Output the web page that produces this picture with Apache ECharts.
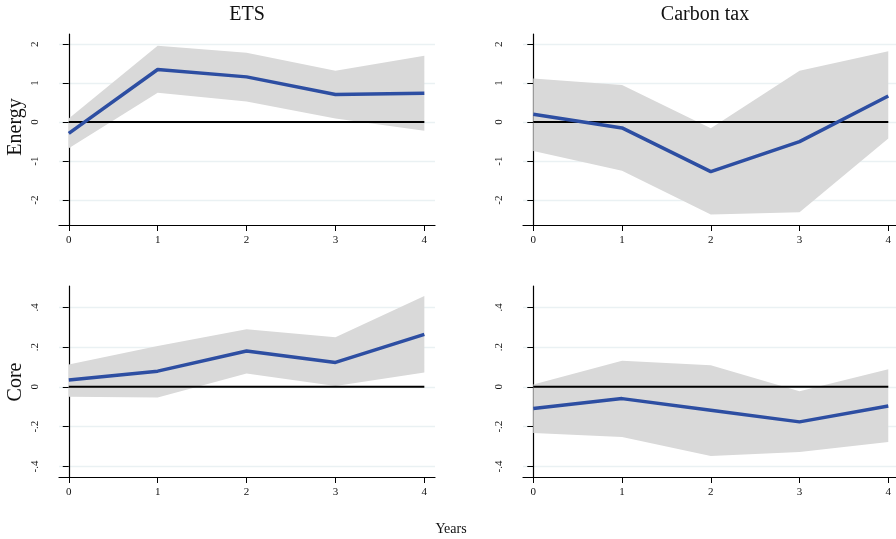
<!DOCTYPE html>
<html>
<head>
<meta charset="utf-8">
<script src="https://cdn.jsdelivr.net/npm/echarts@6/dist/echarts.min.js"></script>
<style>html,body{margin:0;padding:0;background:#fff}#c{width:896px;height:539px}</style>
</head>
<body>
<div id="c"></div>
<script>
// ---- data ----
const years = [0, 1, 2, 3, 4];
const xTicks = [0, 1, 2, 3, 4];
const energyTicks = [-2, -1, 0, 1, 2];
const coreTicks = [-0.4, -0.2, 0, 0.2, 0.4];
const colTitles = ['ETS', 'Carbon tax'];
const rowTitles = ['Energy', 'Core'];

const etsEnergyMean  = [-0.29, 1.35, 1.16, 0.71, 0.74];
const etsEnergyUpper = [0.09, 1.96, 1.78, 1.32, 1.70];
const etsEnergyLower = [-0.67, 0.75, 0.53, 0.09, -0.22];

const taxEnergyMean  = [0.20, -0.15, -1.27, -0.50, 0.67];
const taxEnergyUpper = [1.12, 0.95, -0.16, 1.32, 1.82];
const taxEnergyLower = [-0.74, -1.25, -2.37, -2.31, -0.42];

const etsCoreMean  = [0.034, 0.079, 0.180, 0.123, 0.264];
const etsCoreUpper = [0.113, 0.205, 0.289, 0.249, 0.457];
const etsCoreLower = [-0.050, -0.053, 0.067, 0.004, 0.072];

const taxCoreMean  = [-0.109, -0.059, -0.117, -0.176, -0.096];
const taxCoreUpper = [0.012, 0.131, 0.109, -0.022, 0.089];
const taxCoreLower = [-0.232, -0.252, -0.348, -0.327, -0.277];

const panels = [
  {mean: etsEnergyMean, upper: etsEnergyUpper, lower: etsEnergyLower, ticks: energyTicks, row: 0, col: 0},
  {mean: taxEnergyMean, upper: taxEnergyUpper, lower: taxEnergyLower, ticks: energyTicks, row: 0, col: 1},
  {mean: etsCoreMean, upper: etsCoreUpper, lower: etsCoreLower, ticks: coreTicks, row: 1, col: 0},
  {mean: taxCoreMean, upper: taxCoreUpper, lower: taxCoreLower, ticks: coreTicks, row: 1, col: 1}
];
const yRanges = [[-2.64, 2.26], [-0.453, 0.507]];
const xRanges = [[-0.11, 4.12], [-0.116, 4.087]];

// ---- layout ----
const FONT = 'Liberation Serif';
const gridLeft = [59, 523];
const gridRight = [461, 0];
const gridTop = [34, 286];
const gridH = 191;

const grids = [], xAxes = [], yAxes = [], series = [];
panels.forEach((p, i) => {
  grids.push({left: gridLeft[p.col], right: gridRight[p.col], top: gridTop[p.row], height: gridH});
  const xr = xRanges[p.col];
  xAxes.push({
    type: 'value', gridIndex: i, min: xr[0], max: xr[1],
    axisLine: {show: true, onZero: false, lineStyle: {color: '#000', width: 1.2}},
    axisTick: {show: true, length: 6, customValues: xTicks, lineStyle: {color: '#000', width: 1}},
    axisLabel: {show: true, customValues: xTicks, margin: 10, fontFamily: FONT, fontSize: 11, color: '#111'},
    splitLine: {show: false}
  });
  const yr = yRanges[p.row];
  yAxes.push({
    type: 'value', gridIndex: i, min: yr[0], max: yr[1],
    axisLine: {show: true, lineStyle: {color: '#000', width: 1.2}},
    axisTick: {show: true, length: 6, customValues: p.ticks, lineStyle: {color: '#000', width: 1}},
    axisLabel: {show: true, customValues: p.ticks, rotate: 90, margin: 18, fontFamily: FONT, fontSize: 11, color: '#111',
      formatter: v => {
        let s = String(Math.round(v * 10) / 10);
        return s.replace(/^0\./, '.').replace(/^-0\./, '-.');
      }},
    splitLine: {show: true, lineStyle: {color: '#eaf1f3', width: 1.4}}
  });
  // confidence band as polygon through the axis scales
  series.push({
    type: 'custom', xAxisIndex: i, yAxisIndex: i, silent: true, z: 1,
    data: [[0, 0]],
    renderItem: (params, api) => {
      const pts = [];
      years.forEach((x, k) => pts.push(api.coord([x, p.upper[k]])));
      for (let k = years.length - 1; k >= 0; k--) pts.push(api.coord([years[k], p.lower[k]]));
      return {type: 'polygon', shape: {points: pts}, style: {fill: '#d9d9d9'}};
    }
  });
  series.push({
    type: 'line', xAxisIndex: i, yAxisIndex: i,
    data: [[years[0], 0], [years[years.length - 1], 0]],
    symbol: 'none', lineStyle: {color: '#000', width: 2}, silent: true, z: 2
  });
  series.push({
    type: 'line', xAxisIndex: i, yAxisIndex: i,
    data: years.map((x, k) => [x, p.mean[k]]),
    symbol: 'none', lineStyle: {color: '#2d4ea2', width: 3.5}, silent: true, z: 3
  });
});

const TF = '20px "Liberation Serif"';
const graphic = [
  {type: 'text', position: [247, 15], style: {text: colTitles[0], font: TF, fill: '#111', textAlign: 'center', textVerticalAlign: 'middle'}},
  {type: 'text', position: [705, 15], style: {text: colTitles[1], font: TF, fill: '#111', textAlign: 'center', textVerticalAlign: 'middle'}},
  {type: 'text', position: [16, 127], rotation: Math.PI / 2, style: {text: rowTitles[0], font: TF, fill: '#111', textAlign: 'center', textVerticalAlign: 'middle'}},
  {type: 'text', position: [16, 382], rotation: Math.PI / 2, style: {text: rowTitles[1], font: TF, fill: '#111', textAlign: 'center', textVerticalAlign: 'middle'}},
  {type: 'text', position: [451, 529], style: {text: 'Years', font: '14px "Liberation Serif"', fill: '#111', textAlign: 'center', textVerticalAlign: 'middle'}}
];

const chart = echarts.init(document.getElementById('c'), null, {renderer: 'canvas'});
chart.setOption({
  animation: false,
  backgroundColor: '#fff',
  grid: grids, xAxis: xAxes, yAxis: yAxes, series: series,
  graphic: graphic
});
</script>
</body>
</html>
